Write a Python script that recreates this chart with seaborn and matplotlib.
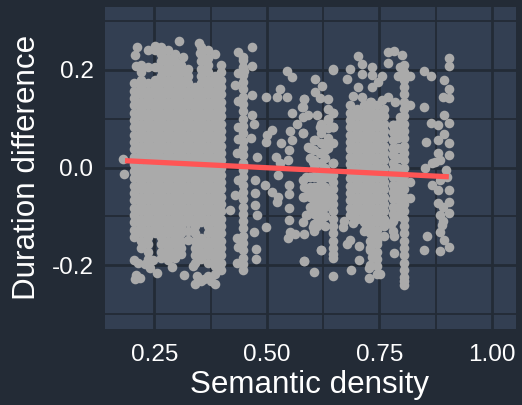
import pandas as pd
import matplotlib
matplotlib.use("Agg")
import matplotlib.pyplot as plt
import seaborn as sns

# columns of the solid block on the left (x, then the y values read for it)
dense_x = [0.206, 0.221, 0.236, 0.251, 0.265, 0.28, 0.295, 0.31, 0.325, 0.34, 0.354, 0.369, 0.384, 0.399]
dense_y = [
    [.1725, .1575, .1425, .1275, .1125, .0975, .0825, .0675, .0525, .0375, .0225, .0075, -.0075, -.0225, -.0375, -.0525, -.0675, -.0825, -.0975, -.1125, -.1275, -.1425],
    [.21, .195, .18, .165, .15, .135, .12, .105, .09, .075, .06, .045, .03, .015, 0, -.015, -.03, -.045, -.06, -.075, -.09, -.105, -.12, -.135, -.15, -.165],
    [.24, .205, .1725, .1575, .1425, .1275, .1125, .0975, .0825, .0675, .0525, .0375, .0225, .0075, -.0075, -.0225, -.0375, -.0525, -.0675, -.0825, -.0975, -.1125, -.1275, -.1425, -.1575, -.1725, -.1875],
    [.25, .24, .205, .18, .165, .15, .135, .12, .105, .09, .075, .06, .045, .03, .015, 0, -.015, -.03, -.045, -.06, -.075, -.09, -.105, -.12, -.135],
    [.2475, .2325, .2175, .2025, .1875, .1725, .1575, .1425, .1275, .1125, .0975, .0825, .0675, .0525, .0375, .0225, .0075, -.0075, -.0225, -.0375, -.0525, -.0675, -.0825, -.0975, -.1125, -.1275, -.1425, -.1575, -.1725, -.185],
    [.24, .225, .21, .195, .18, .165, .15, .135, .12, .105, .09, .075, .06, .045, .03, .015, 0, -.015, -.03, -.045, -.06, -.075, -.09, -.105, -.12, -.135, -.15, -.165, -.18, -.19],
    [.2325, .2175, .2025, .1875, .1725, .1575, .1425, .1275, .1125, .0975, .0825, .0675, .0525, .0375, .0225, .0075, -.0075, -.0225, -.0375, -.0525, -.0675, -.0825, -.0975, -.1125, -.1275, -.1425, -.1575, -.1725, -.185],
    [.21, .195, .18, .165, .15, .135, .12, .105, .09, .075, .06, .045, .03, .015, 0, -.015, -.03, -.045, -.06, -.075, -.09, -.105, -.12, -.135, -.15, -.165, -.177],
    [.2025, .1875, .1725, .1575, .1425, .1275, .1125, .0975, .0825, .0675, .0525, .0375, .0225, .0075, -.0075, -.0225, -.0375, -.0525, -.0675, -.0825, -.0975, -.1125, -.13, -.148],
    [.165, .15, .135, .12, .105, .09, .075, .06, .045, .03, .015, 0, -.015, -.03, -.045, -.06, -.075, -.09, -.105, -.12, -.135, -.15, -.165, -.18, -.195, -.238],
    [.2475, .2325, .2175, .2025, .1875, .1725, .1575, .1425, .1275, .1125, .0975, .0825, .0675, .0525, .0375, .0225, .0075, -.0075, -.0225, -.0375, -.0525, -.0675, -.0825, -.0975, -.1125, -.145, -.1575, -.1725, -.1875, -.232],
    [.24, .225, .21, .195, .18, .165, .15, .135, .12, .105, .09, .075, .06, .045, .03, .015, 0, -.015, -.03, -.045, -.06, -.075, -.09, -.105, -.12, -.135, -.15, -.165, -.18, -.195, -.222],
    [.2325, .1875, .1725, .1575, .1425, .1275, .1125, .0975, .0825, .0675, .0525, .0375, .0225, .0075, -.0075, -.0225, -.0375, -.0525, -.0675, -.0825, -.0975, -.1125, -.1275, -.1425, -.1575, -.1725, -.1875, -.2025, -.2175, -.238],
    [.21, .195, .18, .165, .15, .135, .12, .105, .09, .075, .06, .045, .03, .015, 0, -.015, -.03, -.045, -.06, -.075, -.09, -.105, -.12, -.135, -.15, -.165, -.18, -.195, -.21],
]

# thin vertical runs further right
strip_x = [0.447, 0.605, 0.612, 0.62, 0.628, 0.636, 0.647, 0.596, 0.684, 0.70, 0.715, 0.73, 0.745, 0.76, 0.78, 0.791, 0.804]
strip_y = [
    [.221, .205, .19, .175, .16, .145, .13, .115, .10, .085, .07, .055, .04, .025, .01, -.005, -.02, -.035, -.05, -.065, -.08, -.095, -.11, -.125, -.14, -.155, -.17, -.185, -.198, -.21],
    [.057, .035, .015, 0, -.02, -.04, -.06, -.08, -.095, -.115, -.13],
    [-.02, -.04, -.06, -.08, -.10, -.12],
    [.09, .07, .05, .03, .01, -.01, -.03, -.05, -.07, -.09, -.11, -.17],
    [.05, .035, .02, 0, -.02, -.04, -.06, -.08, -.10, -.12],
    [.12, .10, .08, .06, .04, -.02, -.05, -.07],
    [.20, .112, .082, .051, .01, -.015, -.03, -.045, -.06, -.075, -.09, -.105, -.12, -.135, -.15, -.165, -.178, -.185],
    [.04, .02, -.02, -.04, -.06, -.08],
    [.1275, .1125, .0975, .0825, .0675, .0525, .0375, .0225, .0075, -.0075, -.0225, -.0375, -.0525, -.0675, -.0825, -.0975],
    [.12, .105, .09, .075, .06, .045, .03, .015, 0, -.015, -.03, -.045, -.06, -.075, -.09, -.105],
    [.1275, .1125, .0975, .0825, .0675, .0525, .0375, .0225, .0075, -.0075, -.0225, -.0375, -.0525, -.0675, -.0825, -.0975, -.1125],
    [.135, .12, .105, .09, .075, .06, .045, .03, .015, 0, -.015, -.03, -.045, -.06, -.075, -.09, -.105, -.12, -.135, -.15, -.165],
    [.1275, .1125, .0975, .0825, .0675, .0525, .0375, .0225, .0075, -.0075, -.0225, -.0375, -.0525, -.0675, -.0825, -.0975, -.1125, -.1275, -.1425, -.1575, -.1725, -.1875, -.2025, -.218],
    [.12, .105, .09, .075, .06, .045, .03, .015, 0, -.015, -.03, -.045, -.06, -.075, -.09, -.105, -.12],
    [.088, .072, .057, .04, .025, .01, -.005, -.02, -.035, -.05, -.065, -.08, -.095, -.11, -.13],
    [.09, .075, .06, .04, .02, 0, -.02, -.035, -.05, -.065, -.08, -.10],
    [.21, .195, .18, .165, .15, .135, .12, .105, .09, .075, .06, .045, .03, .015, 0, -.015, -.03, -.045, -.06, -.075, -.09, -.105, -.12, -.135, -.15, -.165, -.18, -.195, -.21, -.225, -.232, -.24],
]

# single points, read one by one
left_x = [0.18, 0.183, 0.212, 0.208, 0.21, 0.22, 0.206, 0.208, 0.209, 0.218, 0.229, 0.213, 0.248, 0.24, 0.255, 0.305, 0.314, 0.29, 0.315, 0.335, 0.345, 0.349, 0.352, 0.36, 0.375]
left_y = [0.018, -0.013, 0.246, 0.231, 0.209, 0.205, -0.19, -0.229, -0.22, -0.226, -0.198, -0.195, -0.19, -0.205, -0.216, 0.26, 0.227, -0.204, -0.22, -0.202, -0.222, 0.256, 0.235, -0.228, -0.232]

mid_x = [0.436, 0.447, 0.467, 0.467, 0.436, 0.449, 0.429, 0.467, 0.436, 0.467, 0.471, 0.436, 0.436, 0.465, 0.434, 0.478, 0.436, 0.474, 0.429, 0.474, 0.474, 0.478, 0.418, 0.472, 0.498, 0.434, 0.436, 0.476, 0.476, 0.434]
mid_y = [0.236, 0.227, 0.246, 0.209, 0.194, 0.197, 0.17, 0.149, 0.137, 0.108, 0.09, 0.084, 0.059, 0.061, 0.03, 0.022, -0.025, -0.025, -0.056, -0.052, -0.077, -0.097, -0.087, -0.132, -0.122, -0.144, -0.163, -0.167, -0.187, -0.196]

sparse_x = [0.498, 0.545, 0.556, 0.529, 0.522, 0.545, 0.582, 0.578, 0.58, 0.556, 0.567, 0.551, 0.58, 0.511, 0.5, 0.498, 0.531, 0.556, 0.549, 0.591, 0.52, 0.547, 0.529, 0.525, 0.496, 0.511, 0.525, 0.522, 0.549, 0.549, 0.549, 0.549, 0.58, 0.551, 0.562, 0.547, 0.582, 0.582, 0.589, 0.58, 0.58, 0.591]
sparse_y = [0.145, 0.197, 0.186, 0.16, 0.145, 0.145, 0.141, 0.123, 0.104, 0.112, 0.09, 0.075, 0.071, 0.077, 0.067, 0.053, 0.051, 0.057, 0.036, 0.042, 0.022, 0.016, 0.01, -0.015, -0.036, -0.05, -0.06, -0.07, -0.036, -0.054, -0.083, -0.107, -0.112, -0.132, -0.136, -0.144, -0.136, -0.192, -0.097, -0.06, -0.025, -0.046]

cluster_x = [0.647, 0.607, 0.622, 0.607, 0.618, 0.636, 0.582, 0.58, 0.591, 0.611, 0.647, 0.636, 0.618, 0.647, 0.58, 0.607, 0.636, 0.596, 0.618, 0.602, 0.647, 0.587, 0.582, 0.582, 0.604, 0.602, 0.62, 0.582, 0.604, 0.647, 0.6, 0.587]
cluster_y = [0.201, 0.182, 0.168, 0.155, 0.143, 0.141, 0.141, 0.125, 0.108, 0.108, 0.112, 0.098, 0.084, 0.082, 0.071, 0.057, 0.051, 0.04, 0.03, 0.012, 0.01, -0.02, -0.04, -0.06, -0.07, -0.122, -0.169, -0.192, -0.214, -0.222, -0.05, -0.097]

upper_x = [0.702, 0.711, 0.684, 0.733, 0.733, 0.711, 0.678, 0.755, 0.747, 0.733, 0.702, 0.691, 0.711, 0.731, 0.755, 0.769, 0.784, 0.769, 0.782, 0.8, 0.769, 0.795, 0.791, 0.818, 0.818, 0.795, 0.78, 0.78, 0.78, 0.818, 0.818]
upper_y = [0.229, 0.213, 0.201, 0.207, 0.19, 0.192, 0.182, 0.188, 0.176, 0.164, 0.166, 0.147, 0.145, 0.135, 0.139, 0.145, 0.135, 0.236, 0.238, 0.231, 0.215, 0.205, 0.188, 0.188, 0.129, 0.104, 0.088, 0.057, 0.027, -0.03, -0.062]

lower_x = [0.669, 0.691, 0.678, 0.684, 0.704, 0.733, 0.729, 0.727, 0.727, 0.751, 0.687, 0.704, 0.782, 0.782, 0.735, 0.745, 0.72, 0.715, 0.73, 0.672, 0.698, 0.76, 0.775]
lower_y = [-0.122, -0.114, -0.157, -0.148, -0.161, -0.183, -0.169, -0.206, -0.226, -0.218, -0.21, -0.19, -0.14, -0.175, -0.135, -0.15, -0.125, -0.13, -0.2, -0.11, -0.105, -0.14, -0.115]

right_x = [0.849, 0.865, 0.893, 0.904, 0.904, 0.904, 0.891, 0.904, 0.849, 0.893, 0.865, 0.88, 0.904, 0.853, 0.893, 0.88, 0.904, 0.904, 0.867, 0.885, 0.851, 0.867, 0.88, 0.904, 0.88, 0.904, 0.904, 0.885, 0.889, 0.885, 0.893, 0.904, 0.885, 0.856, 0.849, 0.89, 0.89, 0.885, 0.897, 0.9, 0.88, 0.874]
right_y = [0.197, 0.188, 0.18, 0.225, 0.209, 0.16, 0.145, 0.143, 0.125, 0.108, 0.092, 0.088, 0.092, 0.053, 0.069, 0.057, 0.051, 0.026, 0.01, 0.016, -0.001, -0.036, -0.046, -0.046, -0.072, -0.07, -0.093, -0.097, -0.118, -0.132, -0.148, -0.163, -0.171, -0.14, -0.169, -0.08, -0.11, -0.025, -0.005, -0.02, 0.03, 0.012]

# fitted line ends
fit_x = [0.185, 0.904]
fit_y = [0.014, -0.019]

x_ticks = [0.25, 0.50, 0.75, 1.00]
x_tick_labels = ["0.25", "0.50", "0.75", "1.00"]
x_minor = [0.375, 0.625, 0.875]
y_ticks = [-0.2, 0.0, 0.2]
y_tick_labels = ["-0.2", "0.0", "0.2"]
y_minor = [-0.3, -0.1, 0.1, 0.3]

FIG_BG = "#232B36"
PANEL_BG = "#333F52"


def build_points():
    xs, ys = [], []
    for col_x, col_y in zip(dense_x + strip_x, dense_y + strip_y):
        xs += [col_x] * len(col_y)
        ys += col_y
    for px, py in [(left_x, left_y), (mid_x, mid_y), (sparse_x, sparse_y),
                   (cluster_x, cluster_y), (upper_x, upper_y), (lower_x, lower_y),
                   (right_x, right_y)]:
        xs += px
        ys += py
    return pd.DataFrame({"density": xs, "diff": ys})


def main():
    sns.set_theme(style="darkgrid")
    plt.rcParams["font.family"] = ["Liberation Sans", "DejaVu Sans"]

    fig, ax = plt.subplots(figsize=(5.22, 4.05), dpi=100)
    fig.patch.set_facecolor(FIG_BG)
    fig.subplots_adjust(left=104.5 / 522, right=515.5 / 522, bottom=1 - 329 / 405, top=1 - 6.5 / 405)
    ax.set_facecolor(PANEL_BG)

    df = build_points()
    sns.scatterplot(data=df, x="density", y="diff", color="#AAAAAA", s=48, linewidth=0, ax=ax, zorder=3)
    sns.lineplot(x=fit_x, y=fit_y, color="#FF5555", linewidth=3.8, errorbar=None, ax=ax, zorder=4,
                 solid_capstyle="butt")

    ax.set_xlim(0.1395, 1.052)
    ax.set_ylim(-0.331, 0.33)
    ax.set_xticks(x_ticks)
    ax.set_xticklabels(x_tick_labels)
    ax.set_yticks(y_ticks)
    ax.set_yticklabels(y_tick_labels)
    ax.set_xticks(x_minor, minor=True)
    ax.set_yticks(y_minor, minor=True)

    ax.grid(True, which="major", color=FIG_BG, linewidth=2.0, zorder=1)
    ax.grid(True, which="minor", color=FIG_BG, linewidth=1.3, zorder=1)
    ax.set_axisbelow(True)
    for spine in ax.spines.values():
        spine.set_visible(False)

    ax.tick_params(axis="both", which="major", length=5, width=1.2, color="#333333",
                   labelcolor="white", labelsize=17.5)
    ax.tick_params(axis="x", which="major", pad=6)
    ax.tick_params(axis="y", which="major", pad=3)
    ax.tick_params(axis="both", which="minor", length=0)
    ax.set_xlabel("Semantic density", color="white", fontsize=22.6, labelpad=3)
    ax.set_ylabel("Duration difference", color="white", fontsize=22.6, labelpad=7)

    fig.savefig("out.png", dpi=100, facecolor=FIG_BG)
    plt.close(fig)


if __name__ == "__main__":
    main()
